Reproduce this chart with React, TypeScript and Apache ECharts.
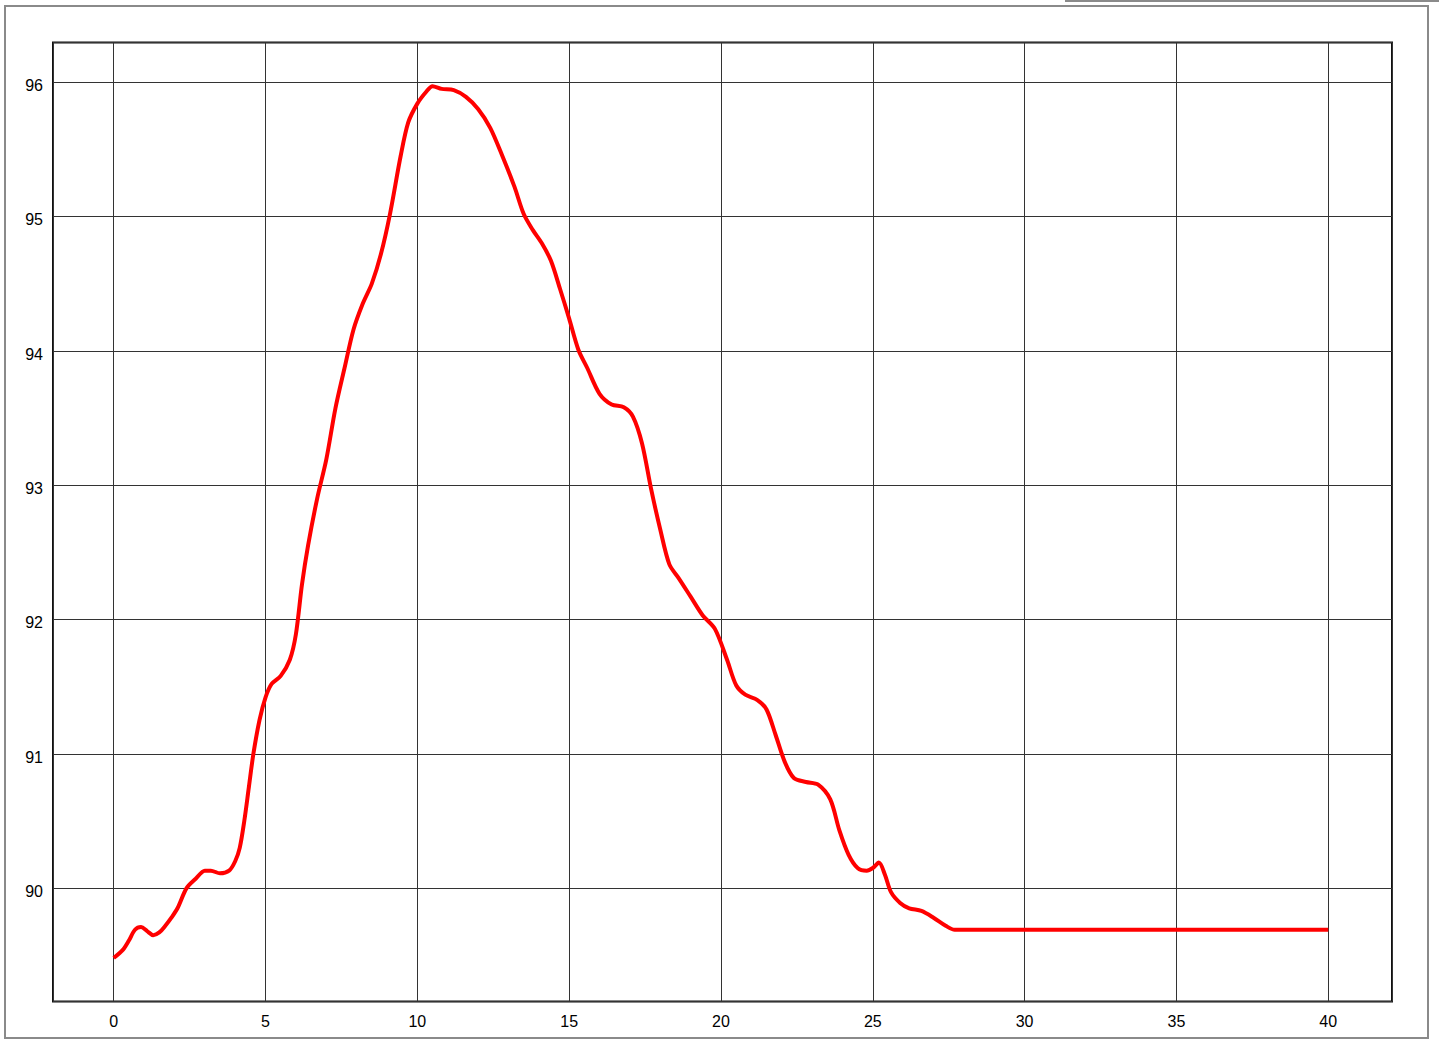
import React, { useEffect, useRef } from "react";
import * as echarts from "echarts";

const xValues: number[] = [
  0, 0.3, 0.5, 0.7, 0.9, 1.1, 1.3, 1.5, 1.7, 1.9, 2.1, 2.4, 2.7, 3.0, 3.2, 3.5, 3.8, 4.0, 4.15, 4.3,
  4.45, 4.6, 4.8, 5.0, 5.2, 5.5, 5.8, 6.0, 6.2, 6.4, 6.7, 7.0, 7.3, 7.6, 7.9, 8.2, 8.5, 8.8, 9.1, 9.45,
  9.7, 10.0, 10.3, 10.5, 10.8, 11.2, 11.6, 12.0, 12.4, 12.8, 13.2, 13.5, 13.8, 14.1, 14.4, 14.7, 15.0,
  15.3, 15.6, 16.0, 16.4, 16.8, 17.1, 17.4, 17.7, 18.0, 18.3, 18.6, 19.0, 19.4, 19.8, 20.2, 20.5, 20.8,
  21.2, 21.5, 21.8, 22.1, 22.4, 22.8, 23.2, 23.6, 23.9, 24.2, 24.5, 24.8, 25.0, 25.2, 25.4, 25.6, 25.9,
  26.2, 26.6, 27.0, 27.4, 27.7, 28.0, 40.0,
];

const yValues: number[] = [
  89.48, 89.54, 89.61, 89.69, 89.71, 89.68, 89.65, 89.67, 89.72, 89.78, 89.85, 90.0, 90.07, 90.13,
  90.13, 90.11, 90.13, 90.2, 90.3, 90.5, 90.75, 91.0, 91.25, 91.42, 91.52, 91.58, 91.7, 91.89, 92.26,
  92.55, 92.9, 93.19, 93.57, 93.87, 94.16, 94.35, 94.5, 94.72, 95.02, 95.45, 95.7, 95.84, 95.93, 95.97,
  95.95, 95.94, 95.89, 95.8, 95.66, 95.45, 95.22, 95.02, 94.9, 94.8, 94.67, 94.46, 94.24, 94.01, 93.87,
  93.68, 93.6, 93.58, 93.51, 93.31, 92.97, 92.67, 92.41, 92.31, 92.17, 92.03, 91.93, 91.7, 91.51, 91.44,
  91.4, 91.33, 91.14, 90.94, 90.82, 90.79, 90.77, 90.66, 90.43, 90.25, 90.15, 90.13, 90.15, 90.19,
  90.1, 89.97, 89.89, 89.85, 89.83, 89.78, 89.72, 89.69, 89.69, 89.69,
];

const xTicks: number[] = [0, 5, 10, 15, 20, 25, 30, 35, 40];
const yTicks: number[] = [90, 91, 92, 93, 94, 95, 96];

export default function App() {
  const ref = useRef<HTMLDivElement>(null);
  useEffect(() => {
    if (!ref.current) return;
    const chart = echarts.init(ref.current, undefined, { renderer: "svg" });
    const data = xValues.map((x, i) => [x, yValues[i]]);
    const font = "'Liberation Sans', Arial, sans-serif";
    chart.setOption({
      animation: false,
      backgroundColor: "#ffffff",
      grid: { left: 53, top: 42.5, right: 47, bottom: 45.5, show: true, borderColor: "#111", borderWidth: 2, backgroundColor: "transparent" },
      graphic: [
        { type: "rect", shape: { x: 5, y: 6, width: 1423, height: 1032 }, style: { fill: "none", stroke: "#8a8a8a", lineWidth: 2 }, silent: true },
        { type: "line", shape: { x1: 1065, y1: 1, x2: 1439, y2: 1 }, style: { stroke: "#8a8a8a", lineWidth: 2 }, silent: true },
      ],
      xAxis: {
        type: "value",
        min: -2,
        max: 42.1,
        minInterval: 5,
        maxInterval: 5,
        axisLine: { show: false },
        axisTick: { show: false },
        splitLine: { show: true, lineStyle: { color: "#333", width: 1 } },
        axisLabel: {
          color: "#000",
          fontSize: 16,
          fontFamily: font,
          margin: 12,
          showMinLabel: false,
          showMaxLabel: false,
          formatter: (v: number) => (xTicks.includes(Math.round(v * 1000) / 1000) ? String(Math.round(v)) : ""),
        },
      },
      yAxis: {
        type: "value",
        min: 89.156,
        max: 96.295,
        minInterval: 1,
        maxInterval: 1,
        axisLine: { show: false },
        axisTick: { show: false },
        splitLine: { show: true, lineStyle: { color: "#333", width: 1 } },
        axisLabel: {
          color: "#000",
          fontSize: 16,
          fontFamily: font,
          margin: 10,
          verticalAlign: "top",
          lineHeight: 7,
          showMinLabel: false,
          showMaxLabel: false,
          formatter: (v: number) => (yTicks.includes(Math.round(v * 1000) / 1000) ? String(Math.round(v)) : ""),
        },
      },
      series: [
        {
          type: "line",
          data,
          showSymbol: false,
          smooth: 0.3,
          lineStyle: { color: "#ff0000", width: 4 },
          itemStyle: { color: "#ff0000" },
        },
      ],
    });
    return () => chart.dispose();
  }, []);
  return (
    <div
      ref={ref}
      style={{ position: "absolute", left: 0, top: 0, width: 1439, height: 1047, background: "#fff" }}
    />
  );
}
